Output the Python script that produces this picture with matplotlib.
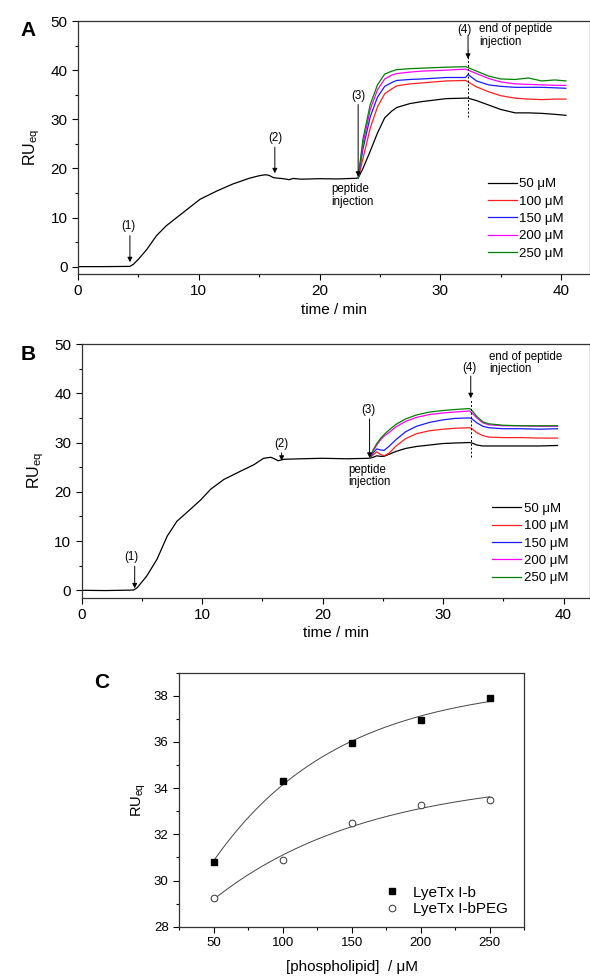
import numpy as np
import matplotlib
matplotlib.use("Agg")
import matplotlib.pyplot as plt
from matplotlib.ticker import MultipleLocator

plt.rcParams['font.family'] = ['Liberation Sans', 'DejaVu Sans']
plt.rcParams['mathtext.fontset'] = 'custom'
plt.rcParams['mathtext.rm'] = 'Liberation Sans'

# ---------------- data: panel A ----------------
conc_labels = ['50 \u03bcM', '100 \u03bcM', '150 \u03bcM', '200 \u03bcM', '250 \u03bcM']
conc_colors = ['#000000', '#ff2020', '#1a1aff', '#ff00ff', '#008000']

tA_pre = [0, 2, 4.3, 4.6, 5.0, 5.7, 6.5, 7.3, 8.7, 10.1, 11.5, 12.8, 14.2, 15.0, 15.5,
          15.8, 16.2, 17.0, 17.5, 17.8, 18.5, 20, 21.5, 23.2]
ruA_pre = [0, 0, 0.05, 0.5, 1.5, 3.5, 6.3, 8.3, 11, 13.7, 15.4, 16.8, 18.0, 18.5, 18.7,
           18.6, 18.1, 17.9, 17.7, 17.95, 17.8, 17.9, 17.85, 18.0]

tA_post = [23.2, 23.6, 24.2, 24.8, 25.4, 26.0, 26.4, 27.5, 28.5, 30.5, 32.1, 32.3, 33.0,
           34.0, 35.0, 36.2, 37.3, 38.4, 39.5, 40.4]
ruA_50 = [18.0, 20.0, 23.5, 27.2, 30.3, 31.7, 32.4, 33.2, 33.6, 34.2, 34.3, 34.3, 33.8,
          32.9, 32.0, 31.3, 31.3, 31.2, 31.0, 30.8]
ruA_100 = [18.0, 22.0, 28.2, 32.5, 35.2, 36.2, 36.8, 37.2, 37.4, 37.8, 37.9, 37.6, 36.6,
           35.6, 34.8, 34.3, 34.1, 34.0, 34.1, 34.1]
ruA_150 = [18.0, 24.0, 30.5, 34.5, 36.7, 37.5, 37.9, 38.1, 38.2, 38.5, 38.5, 39.1, 37.8,
           37.0, 36.7, 36.5, 36.5, 36.5, 36.4, 36.3]
ruA_200 = [18.0, 25.0, 32.0, 36.0, 38.2, 39.0, 39.3, 39.6, 39.8, 40.0, 40.2, 40.0, 39.3,
           38.3, 37.6, 37.2, 37.1, 37.0, 36.9, 36.9]
ruA_250 = [18.0, 26.0, 33.0, 37.0, 39.2, 39.8, 40.1, 40.3, 40.4, 40.6, 40.7, 40.5, 39.8,
           38.8, 38.2, 38.1, 38.4, 37.8, 38.0, 37.8]

# ---------------- data: panel B ----------------
tB_pre = [0, 2, 4.3, 4.6, 5.4, 6.25, 7.1, 7.9, 9.0, 9.9, 10.7, 11.8, 13.2, 14.3, 15.1,
          15.7, 16.0, 16.3, 16.8, 18.2, 20, 22, 23.9]
ruB_pre = [0, -0.05, 0.05, 0.5, 2.9, 6.3, 11, 14, 16.4, 18.4, 20.5, 22.5, 24.2, 25.5, 26.8,
           27.0, 26.7, 26.3, 26.6, 26.7, 26.8, 26.7, 26.8]

tB_post = [23.9, 24.2, 24.5, 24.8, 25.1, 25.5, 26.1, 26.9, 27.8, 28.9, 30.0, 31.0, 32.2,
           32.4, 32.8, 33.3, 33.8, 35, 36.5, 38, 39.5]
ruB_50 = [26.8, 27.0, 27.3, 27.2, 27.2, 27.6, 28.2, 28.8, 29.2, 29.5, 29.8, 29.9, 30.0,
          29.9, 29.5, 29.3, 29.3, 29.3, 29.3, 29.3, 29.4]
ruB_100 = [26.8, 27.5, 28.1, 27.6, 27.3, 27.8, 29.3, 30.8, 31.8, 32.4, 32.7, 32.9, 33.0,
           32.8, 32.0, 31.4, 31.1, 31.0, 31.0, 30.9, 30.9]
ruB_150 = [26.8, 27.9, 28.7, 28.5, 28.4, 29.2, 30.6, 32.2, 33.3, 34.1, 34.6, 34.9, 35.0,
           34.8, 34.0, 33.3, 33.0, 32.8, 32.8, 32.7, 32.8]
ruB_200 = [26.8, 28.3, 29.5, 30.5, 31.3, 32.0, 33.2, 34.3, 35.1, 35.7, 36.0, 36.2, 36.4,
           36.0, 35.0, 34.0, 33.6, 33.4, 33.4, 33.3, 33.3]
ruB_250 = [26.8, 28.5, 29.8, 30.8, 31.6, 32.5, 33.7, 34.8, 35.6, 36.2, 36.5, 36.7, 36.9,
           36.5, 35.3, 34.2, 33.8, 33.5, 33.4, 33.4, 33.4]

# ---------------- data: panel C ----------------
phospholipid = [50, 100, 150, 200, 250]
ru_lyetx = [30.8, 34.3, 35.95, 36.95, 37.9]
ru_lyetx_peg = [29.25, 30.87, 32.48, 33.28, 33.48]

fig = plt.figure(figsize=(5.90, 9.76), dpi=100)
ANN = 8.3

def style_time_axis(ax, xmax):
    ax.set_xlim(0, xmax)
    ax.set_ylim(-1.5, 50)
    ax.xaxis.set_major_locator(MultipleLocator(10))
    ax.xaxis.set_minor_locator(MultipleLocator(5))
    ax.yaxis.set_major_locator(MultipleLocator(10))
    ax.yaxis.set_minor_locator(MultipleLocator(5))
    ax.tick_params(which='both', direction='out', top=False, right=False)
    ax.tick_params(which='major', length=4, width=0.8, labelsize=11)
    ax.tick_params(which='minor', length=2.5, width=0.8)
    for s in ax.spines.values():
        s.set_linewidth(0.9)
        s.set_color('#333333')
    ax.set_xlabel('time / min', fontsize=11, labelpad=3)
    ax.set_ylabel(r'RU$_{\rm eq}$', fontsize=11.5, labelpad=6)

def arrow(ax, x, y0, y1):
    ax.annotate('', xy=(x, y1), xytext=(x, y0),
                arrowprops=dict(arrowstyle='-|>', color='k', lw=0.7,
                                mutation_scale=7, shrinkA=0, shrinkB=0))

# ---------- Panel A ----------
axA = fig.add_axes([78/590, 1 - 274/976, 512/590, 253/976])
style_time_axis(axA, 42.4)
axA.plot(tA_pre, ruA_pre, color='k', lw=0.9)
for ru, c, lab in zip([ruA_50, ruA_100, ruA_150, ruA_200, ruA_250], conc_colors, conc_labels):
    axA.plot(tA_post, ru, color=c, lw=0.9, label=lab)
axA.plot([32.3, 32.3], [30.4, 44.0], color='k', lw=0.7, ls=(0, (2, 2)))
arrow(axA, 4.3, 6.3, 0.9)
axA.text(4.2, 7.0, '(1)', fontsize=ANN, ha='center', va='bottom')
arrow(axA, 16.3, 24.3, 19.0)
axA.text(16.3, 25.0, '(2)', fontsize=ANN, ha='center', va='bottom')
arrow(axA, 23.2, 33.0, 18.3)
axA.text(23.2, 33.6, '(3)', fontsize=ANN, ha='center', va='bottom')
axA.text(21.0, 17.0, 'peptide\ninjection', fontsize=ANN, ha='left', va='top', linespacing=1.05)
arrow(axA, 32.3, 47.0, 42.3)
axA.text(32.0, 47.0, '(4)', fontsize=ANN, ha='center', va='bottom')
axA.text(33.2, 49.5, 'end of peptide\ninjection', fontsize=ANN, ha='left', va='top', linespacing=1.05)
axA.legend(loc='upper left', bbox_to_anchor=(0.80, 0.379), frameon=False, fontsize=9.5,
           handlelength=2.2, handletextpad=0.2, labelspacing=0.39, borderpad=0, borderaxespad=0)
fig.text(28/590, 1 - 30/976, 'A', fontsize=15, fontweight='bold', ha='center', va='center')

# ---------- Panel B ----------
axB = fig.add_axes([81.7/590, 1 - 597.7/976, 508.3/590, 253.7/976])
style_time_axis(axB, 42.2)
axB.plot(tB_pre, ruB_pre, color='k', lw=0.9)
for ru, c, lab in zip([ruB_50, ruB_100, ruB_150, ruB_200, ruB_250], conc_colors, conc_labels):
    axB.plot(tB_post, ru, color=c, lw=0.9, label=lab)
axB.plot([32.3, 32.3], [27.1, 38.8], color='k', lw=0.7, ls=(0, (2, 2)))
arrow(axB, 4.4, 4.9, 0.4)
axB.text(4.1, 5.6, '(1)', fontsize=ANN, ha='center', va='bottom')
arrow(axB, 16.6, 27.9, 26.3)
axB.text(16.6, 28.5, '(2)', fontsize=ANN, ha='center', va='bottom')
arrow(axB, 23.9, 34.8, 26.9)
axB.text(23.8, 35.4, '(3)', fontsize=ANN, ha='center', va='bottom')
axB.text(22.1, 25.7, 'peptide\ninjection', fontsize=ANN, ha='left', va='top', linespacing=1.05)
arrow(axB, 32.3, 43.5, 39.0)
axB.text(32.2, 44.0, '(4)', fontsize=ANN, ha='center', va='bottom')
axB.text(33.85, 48.6, 'end of peptide\ninjection', fontsize=ANN, ha='left', va='top', linespacing=1.05)
axB.legend(loc='upper left', bbox_to_anchor=(0.808, 0.375), frameon=False, fontsize=9.5,
           handlelength=2.2, handletextpad=0.2, labelspacing=0.39, borderpad=0, borderaxespad=0)
fig.text(28/590, 1 - 355/976, 'B', fontsize=15, fontweight='bold', ha='center', va='center')

# ---------- Panel C ----------
axC = fig.add_axes([179/590, 1 - 926.7/976, 345.3/590, 254/976])
axC.set_xlim(25, 275)
axC.set_ylim(28, 39)
xs = np.linspace(50, 250, 200)
xp = np.asarray(phospholipid, float)
for ys in (ru_lyetx, ru_lyetx_peg):
    ys = np.asarray(ys, float)
    best = None
    for c in np.linspace(20, 600, 2000):
        A = np.column_stack([np.ones_like(xp), np.exp(-xp / c)])
        coef, *_ = np.linalg.lstsq(A, ys, rcond=None)
        err = np.sum((A @ coef - ys) ** 2)
        if best is None or err < best[0]:
            best = (err, c, coef)
    _, c, coef = best
    axC.plot(xs, coef[0] + coef[1] * np.exp(-xs / c), color='#444444', lw=0.7)
axC.plot(phospholipid, ru_lyetx, ls='none', marker='s', ms=4.2, color='k', label='LyeTx I-b')
axC.plot(phospholipid, ru_lyetx_peg, ls='none', marker='o', ms=4.8, mfc='white', mec='#333333',
         mew=0.7, label='LyeTx I-bPEG')
axC.xaxis.set_major_locator(MultipleLocator(50))
axC.xaxis.set_minor_locator(MultipleLocator(25))
axC.yaxis.set_major_locator(MultipleLocator(2))
axC.yaxis.set_minor_locator(MultipleLocator(1))
axC.tick_params(which='both', direction='out', top=False, right=False)
axC.tick_params(which='major', length=4, width=0.8, labelsize=9.5)
axC.tick_params(which='minor', length=2.5, width=0.8)
for s in axC.spines.values():
    s.set_linewidth(0.9)
    s.set_color('#333333')
axC.set_xlabel('[phospholipid]  / \u03bcM', fontsize=11, labelpad=8)
axC.set_ylabel(r'RU$_{\rm eq}$', fontsize=10.5, labelpad=4)
axC.legend(loc='lower left', bbox_to_anchor=(0.59, 0.042), frameon=False, fontsize=11,
           handlelength=1.2, handletextpad=0.8, labelspacing=0.15, borderpad=0, borderaxespad=0)
fig.text(102/590, 1 - 682/976, 'C', fontsize=15, fontweight='bold', ha='center', va='center')

fig.savefig('out.png', dpi=100)
